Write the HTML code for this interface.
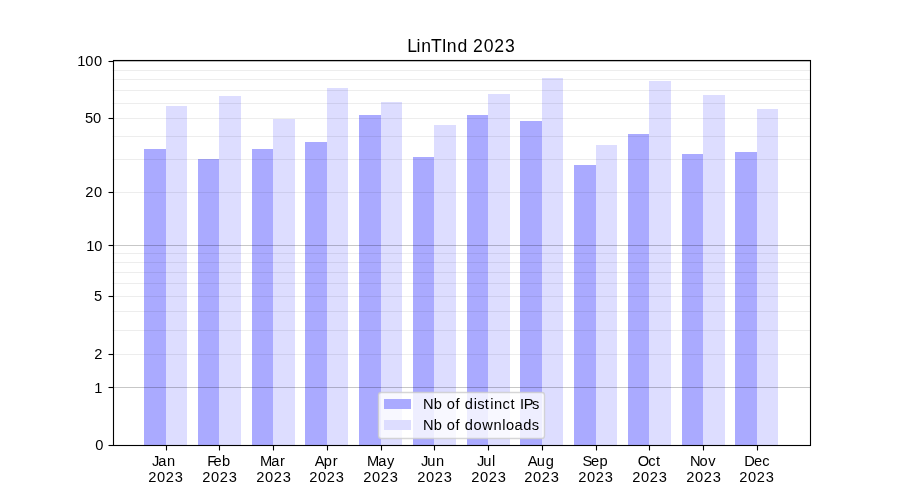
<!DOCTYPE html>
<html lang="en">
<head>
<meta charset="utf-8">
<title>LinTInd 2023</title>
<style>
html,body{margin:0;padding:0;background:#fff;}
body{width:900px;height:500px;overflow:hidden;}
svg{display:block;}
text{font-family:"Liberation Sans",sans-serif;fill:#000;}
.c{shape-rendering:crispEdges;}
</style>
</head>
<body>
<svg width="900" height="500" viewBox="0 0 900 500">
<rect class="c" x="0" y="0" width="900" height="500" fill="#ffffff"/>
<g class="c">
<rect x="144" y="149" width="22" height="296" fill="#aaaaff"/><rect x="166" y="106" width="21" height="339" fill="#ddddff"/>
<rect x="198" y="159" width="21" height="286" fill="#aaaaff"/><rect x="219" y="96" width="22" height="349" fill="#ddddff"/>
<rect x="252" y="149" width="21" height="296" fill="#aaaaff"/><rect x="273" y="119" width="22" height="326" fill="#ddddff"/>
<rect x="305" y="142" width="22" height="303" fill="#aaaaff"/><rect x="327" y="88" width="21" height="357" fill="#ddddff"/>
<rect x="359" y="115" width="22" height="330" fill="#aaaaff"/><rect x="381" y="102" width="21" height="343" fill="#ddddff"/>
<rect x="413" y="157" width="21" height="288" fill="#aaaaff"/><rect x="434" y="125" width="22" height="320" fill="#ddddff"/>
<rect x="467" y="115" width="21" height="330" fill="#aaaaff"/><rect x="488" y="94" width="22" height="351" fill="#ddddff"/>
<rect x="520" y="121" width="22" height="324" fill="#aaaaff"/><rect x="542" y="78" width="21" height="367" fill="#ddddff"/>
<rect x="574" y="165" width="22" height="280" fill="#aaaaff"/><rect x="596" y="145" width="21" height="300" fill="#ddddff"/>
<rect x="628" y="134" width="21" height="311" fill="#aaaaff"/><rect x="649" y="81" width="22" height="364" fill="#ddddff"/>
<rect x="682" y="154" width="21" height="291" fill="#aaaaff"/><rect x="703" y="95" width="22" height="350" fill="#ddddff"/>
<rect x="735" y="152" width="22" height="293" fill="#aaaaff"/><rect x="757" y="109" width="21" height="336" fill="#ddddff"/>
</g>
<g stroke="#000" stroke-width="1.111" fill="none">
<g stroke-opacity="0.07"><line x1="112.5" x2="810" y1="70.5" y2="70.5"/><line x1="112.5" x2="810" y1="79.5" y2="79.5"/><line x1="112.5" x2="810" y1="90.5" y2="90.5"/><line x1="112.5" x2="810" y1="103.5" y2="103.5"/><line x1="112.5" x2="810" y1="118.5" y2="118.5"/><line x1="112.5" x2="810" y1="136.5" y2="136.5"/><line x1="112.5" x2="810" y1="159.5" y2="159.5"/><line x1="112.5" x2="810" y1="192.5" y2="192.5"/><line x1="112.5" x2="810" y1="253.5" y2="253.5"/><line x1="112.5" x2="810" y1="262.5" y2="262.5"/><line x1="112.5" x2="810" y1="272.5" y2="272.5"/><line x1="112.5" x2="810" y1="283.5" y2="283.5"/><line x1="112.5" x2="810" y1="296.5" y2="296.5"/><line x1="112.5" x2="810" y1="311.5" y2="311.5"/><line x1="112.5" x2="810" y1="330.5" y2="330.5"/><line x1="112.5" x2="810" y1="354.5" y2="354.5"/></g>
<g stroke-opacity="0.22"><line x1="112.5" x2="810" y1="61.5" y2="61.5"/><line x1="112.5" x2="810" y1="245.5" y2="245.5"/><line x1="112.5" x2="810" y1="387.5" y2="387.5"/></g>
<line x1="108.5" x2="113" y1="445.5" y2="445.5"/><line x1="108.5" x2="113" y1="387.5" y2="387.5"/><line x1="108.5" x2="113" y1="354.5" y2="354.5"/><line x1="108.5" x2="113" y1="296.5" y2="296.5"/><line x1="108.5" x2="113" y1="245.5" y2="245.5"/><line x1="108.5" x2="113" y1="192.5" y2="192.5"/><line x1="108.5" x2="113" y1="118.5" y2="118.5"/><line x1="108.5" x2="113" y1="61.5" y2="61.5"/>
<line x1="166.5" x2="166.5" y1="445" y2="450.5"/><line x1="219.5" x2="219.5" y1="445" y2="450.5"/><line x1="273.5" x2="273.5" y1="445" y2="450.5"/><line x1="327.5" x2="327.5" y1="445" y2="450.5"/><line x1="381.5" x2="381.5" y1="445" y2="450.5"/><line x1="434.5" x2="434.5" y1="445" y2="450.5"/><line x1="488.5" x2="488.5" y1="445" y2="450.5"/><line x1="542.5" x2="542.5" y1="445" y2="450.5"/><line x1="596.5" x2="596.5" y1="445" y2="450.5"/><line x1="649.5" x2="649.5" y1="445" y2="450.5"/><line x1="703.5" x2="703.5" y1="445" y2="450.5"/><line x1="757.5" x2="757.5" y1="445" y2="450.5"/>
<rect x="113.5" y="60.5" width="697" height="385" stroke-linejoin="miter"/>
</g>
<rect x="378.5" y="392.5" width="166" height="46" rx="2.8" ry="2.8" fill="#fff" fill-opacity="0.8" stroke="#cccccc" stroke-opacity="0.8" stroke-width="1.389"/>
<rect class="c" x="384" y="399" width="27" height="10" fill="#aaaaff"/>
<rect class="c" x="384" y="420" width="27" height="10" fill="#ddddff"/>
<defs><filter id="gs" x="0" y="0" width="900" height="500" filterUnits="userSpaceOnUse" color-interpolation-filters="sRGB"><feColorMatrix type="saturate" values="0"/></filter></defs>
<g filter="url(#gs)">
<text transform="translate(407.00,52.00)" font-size="17.58" x="0.16 9.62 14.22 24.10 34.64 39.85 50.43 60.50 66.10 76.79 87.23 98.06">LinTInd 2023</text>
<text transform="translate(95.00,450.00)" font-size="14.65" x="0.34">0</text>
<text transform="translate(95.00,393.00)" font-size="14.65" x="-0.71">1</text>
<text transform="translate(95.00,359.00)" font-size="14.65" x="-0.71">2</text>
<text transform="translate(95.00,301.00)" font-size="14.65" x="-1.13">5</text>
<text transform="translate(87.00,251.00)" font-size="14.65" x="-0.71 7.22">10</text>
<text transform="translate(86.00,197.00)" font-size="14.65" x="-0.71 8.09">20</text>
<text transform="translate(86.00,123.00)" font-size="14.65" x="-1.13 7.09">50</text>
<text transform="translate(78.00,66.00)" font-size="14.65" x="-0.71 7.22 15.97">100</text>
<text transform="translate(154.00,466.00)" font-size="14.65" x="-2.02 4.13 12.91">Jan</text>
<text transform="translate(149.00,482.00)" font-size="14.65" x="-0.71 8.09 16.79 25.72">2023</text>
<text transform="translate(208.00,466.00)" font-size="14.65" x="-0.89 5.52 14.06">Feb</text>
<text transform="translate(203.00,482.00)" font-size="14.65" x="-0.71 8.09 16.79 25.72">2023</text>
<text transform="translate(261.00,466.00)" font-size="14.65" x="-1.10 10.13 19.08">Mar</text>
<text transform="translate(257.00,482.00)" font-size="14.65" x="-0.71 8.09 16.79 25.72">2023</text>
<text transform="translate(315.00,466.00)" font-size="14.65" x="-0.15 8.83 17.83">Apr</text>
<text transform="translate(310.00,482.00)" font-size="14.65" x="-0.71 8.09 16.79 25.72">2023</text>
<text transform="translate(368.00,466.00)" font-size="14.65" x="-1.10 10.13 19.10">May</text>
<text transform="translate(364.00,482.00)" font-size="14.65" x="-0.71 8.09 16.79 25.72">2023</text>
<text transform="translate(423.00,466.00)" font-size="14.65" x="-2.02 4.36 13.04">Jun</text>
<text transform="translate(418.00,482.00)" font-size="14.65" x="-0.71 8.09 16.79 25.72">2023</text>
<text transform="translate(479.00,466.00)" font-size="14.65" x="-2.02 4.36 13.05">Jul</text>
<text transform="translate(472.00,482.00)" font-size="14.65" x="-0.71 8.09 16.79 25.72">2023</text>
<text transform="translate(528.00,466.00)" font-size="14.65" x="-0.15 8.86 17.63">Aug</text>
<text transform="translate(525.00,482.00)" font-size="14.65" x="-0.71 8.09 16.79 25.72">2023</text>
<text transform="translate(583.00,466.00)" font-size="14.65" x="-0.57 8.02 16.58">Sep</text>
<text transform="translate(579.00,482.00)" font-size="14.65" x="-0.71 8.09 16.79 25.72">2023</text>
<text transform="translate(638.00,466.00)" font-size="14.65" x="-0.22 10.31 17.95">Oct</text>
<text transform="translate(633.00,482.00)" font-size="14.65" x="-0.71 8.09 16.79 25.72">2023</text>
<text transform="translate(691.00,466.00)" font-size="14.65" x="-1.11 8.55 17.34">Nov</text>
<text transform="translate(687.00,482.00)" font-size="14.65" x="-0.71 8.09 16.79 25.72">2023</text>
<text transform="translate(745.00,466.00)" font-size="14.65" x="-0.86 9.02 17.19">Dec</text>
<text transform="translate(740.00,482.00)" font-size="14.65" x="-0.71 8.09 16.79 25.72">2023</text>
<text transform="translate(423.00,409.00)" font-size="14.65" x="-0.11 10.69 19.25 23.80 32.51 37.12 41.86 50.68 54.17 61.82 67.18 71.04 79.44 87.57 92.62 97.01 100.66 109.04">Nb of distinct IPs</text>
<text transform="translate(423.00,430.00)" font-size="14.65" x="-0.11 10.69 19.25 23.80 32.51 37.12 41.86 50.55 59.28 70.54 79.30 83.05 91.51 100.36 108.79">Nb of downloads</text>
</g>
</svg>
</body>
</html>
